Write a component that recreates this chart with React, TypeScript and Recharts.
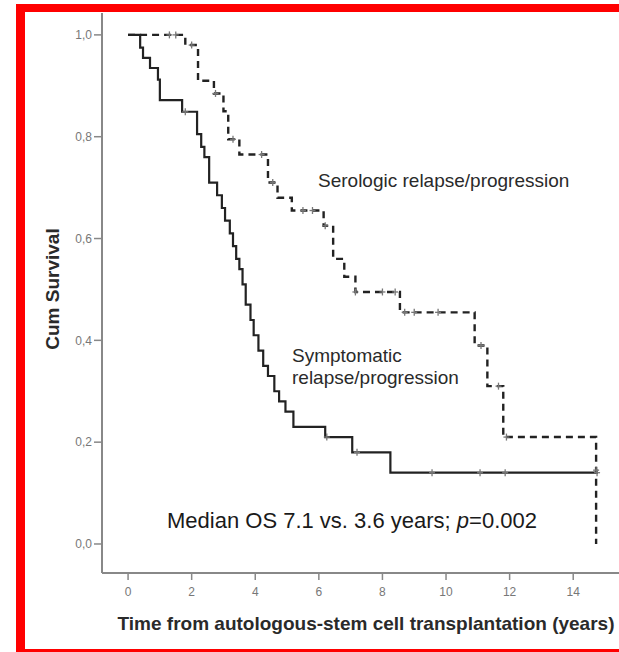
import React from "react";
import { ComposedChart, Line, Scatter, XAxis, YAxis } from "recharts";

// Kaplan-Meier steps: time (years) and cumulative survival
const serologicTimes = [0, 1.8, 2.2, 2.7, 3.0, 3.15, 3.5, 4.4, 4.7, 5.15, 6.15, 6.45, 6.8, 7.15, 8.55, 10.9, 11.3, 11.8, 14.72, 14.72];
const serologicSurv = [1.0, 0.98, 0.91, 0.885, 0.85, 0.795, 0.765, 0.71, 0.68, 0.655, 0.625, 0.56, 0.525, 0.495, 0.455, 0.39, 0.31, 0.21, 0.145, 0.0];

const symptomaticTimes = [0, 0.38, 0.47, 0.69, 0.94, 1.0, 1.7, 2.17, 2.3, 2.4, 2.55, 2.8, 2.95, 3.05, 3.2, 3.3, 3.4, 3.5, 3.6, 3.7, 3.85, 3.95, 4.1, 4.25, 4.4, 4.6, 4.75, 4.95, 5.2, 6.2, 7.05, 8.25, 14.78];
const symptomaticSurv = [1.0, 0.975, 0.955, 0.935, 0.912, 0.872, 0.849, 0.805, 0.78, 0.76, 0.71, 0.685, 0.66, 0.635, 0.61, 0.585, 0.56, 0.54, 0.51, 0.47, 0.44, 0.41, 0.38, 0.35, 0.33, 0.3, 0.28, 0.26, 0.23, 0.21, 0.18, 0.14, 0.14];

// censored observations
const serologicCensorT = [1.3, 1.5, 2.0, 2.75, 3.3, 4.2, 4.55, 5.5, 5.8, 6.2, 7.15, 8.0, 8.4, 8.7, 9.0, 9.75, 11.1, 11.65, 11.9, 14.72];
const serologicCensorS = [1.0, 1.0, 0.98, 0.885, 0.795, 0.765, 0.71, 0.655, 0.655, 0.625, 0.495, 0.495, 0.495, 0.455, 0.455, 0.455, 0.39, 0.31, 0.21, 0.145];
const symptomaticCensorT = [1.8, 6.25, 7.2, 9.56, 11.07, 11.86, 14.75];
const symptomaticCensorS = [0.849, 0.21, 0.18, 0.14, 0.14, 0.14, 0.14];

const xTicks = [0, 2, 4, 6, 8, 10, 12, 14];
const yTicks = [0, 0.2, 0.4, 0.6, 0.8, 1.0];

const toPoints = (ts: number[], ss: number[]) => ts.map((t, i) => ({ t, s: ss[i] }));

const serologic = toPoints(serologicTimes, serologicSurv);
const symptomatic = toPoints(symptomaticTimes, symptomaticSurv);
const serologicCensor = toPoints(serologicCensorT, serologicCensorS);
const symptomaticCensor = toPoints(symptomaticCensorT, symptomaticCensorS);

const font = "'Liberation Sans', Arial, sans-serif";

const CensorMark = (props: any) => {
  const { cx, cy } = props;
  if (cx == null || cy == null) return null;
  return (
    <g stroke="#777" strokeWidth={1.3}>
      <line x1={cx} y1={cy - 3.5} x2={cx} y2={cy + 3.5} />
      <line x1={cx - 3} y1={cy} x2={cx + 3} y2={cy} />
    </g>
  );
};

const textStyle: React.CSSProperties = {
  position: "absolute",
  fontFamily: font,
  color: "#2a2a2a",
  whiteSpace: "nowrap",
  lineHeight: 1,
};

export default function App() {
  return (
    <div style={{ position: "absolute", left: 0, top: 0, width: 619, height: 652, background: "#fff", overflow: "hidden" }}>
      <ComposedChart
        width={619}
        height={652}
        margin={{ top: 13, right: 0, bottom: 0, left: 62 }}
        style={{ position: "absolute", left: 0, top: 0 }}
      >
        <XAxis
          type="number"
          dataKey="t"
          domain={[-0.82, 15.44]}
          allowDataOverflow
          ticks={xTicks}
          height={79}
          tickSize={7}
          tickMargin={7}
          axisLine={{ stroke: "#888", strokeWidth: 2 }}
          tickLine={{ stroke: "#888", strokeWidth: 1.5 }}
          tick={{ fill: "#777", fontSize: 12, fontFamily: font }}
        />
        <YAxis
          type="number"
          dataKey="s"
          domain={[-0.057, 1.043]}
          allowDataOverflow
          ticks={yTicks}
          width={40}
          tickSize={8}
          tickMargin={2}
          tickFormatter={(v: number) => v.toFixed(1).replace(".", ",")}
          axisLine={{ stroke: "#888", strokeWidth: 2 }}
          tickLine={{ stroke: "#888", strokeWidth: 1.5 }}
          tick={{ fill: "#777", fontSize: 12, fontFamily: font }}
        />
        <Line
          data={serologic}
          dataKey="s"
          type="stepAfter"
          stroke="#222"
          strokeWidth={2.4}
          strokeDasharray="7 5"
          dot={false}
          isAnimationActive={false}
        />
        <Line
          data={symptomatic}
          dataKey="s"
          type="stepAfter"
          stroke="#222"
          strokeWidth={2.2}
          dot={false}
          isAnimationActive={false}
        />
        <Scatter data={serologicCensor} dataKey="s" shape={CensorMark} isAnimationActive={false} />
        <Scatter data={symptomaticCensor} dataKey="s" shape={CensorMark} isAnimationActive={false} />
      </ComposedChart>

      {/* red frame */}
      <div style={{ position: "absolute", left: 16, top: 4, width: 603, height: 8, background: "#ff0000" }} />
      <div style={{ position: "absolute", left: 16, top: 4, width: 9, height: 648, background: "#ff0000" }} />
      <div style={{ position: "absolute", left: 16, top: 649, width: 603, height: 3, background: "#ff0000" }} />

      <div style={{ ...textStyle, left: 52, top: 289, fontSize: 19, fontWeight: "bold", transform: "translate(-50%, -50%) rotate(-90deg)" }}>
        Cum Survival
      </div>
      <div style={{ ...textStyle, left: 366, top: 623, fontSize: 19, fontWeight: "bold", transform: "translate(-50%, -50%)" }}>
        Time from autologous-stem cell transplantation (years)
      </div>
      <div style={{ ...textStyle, left: 318, top: 180, fontSize: 19, transform: "translateY(-50%)" }}>
        Serologic relapse/progression
      </div>
      <div style={{ ...textStyle, left: 292, top: 355, fontSize: 19, transform: "translateY(-50%)" }}>
        Symptomatic
      </div>
      <div style={{ ...textStyle, left: 292, top: 377, fontSize: 19, transform: "translateY(-50%)" }}>
        relapse/progression
      </div>
      <div style={{ ...textStyle, left: 167, top: 521, fontSize: 22, color: "#1a1a1a", transform: "translateY(-50%)" }}>
        Median OS 7.1 vs. 3.6 years; <i>p</i>=0.002
      </div>
    </div>
  );
}
